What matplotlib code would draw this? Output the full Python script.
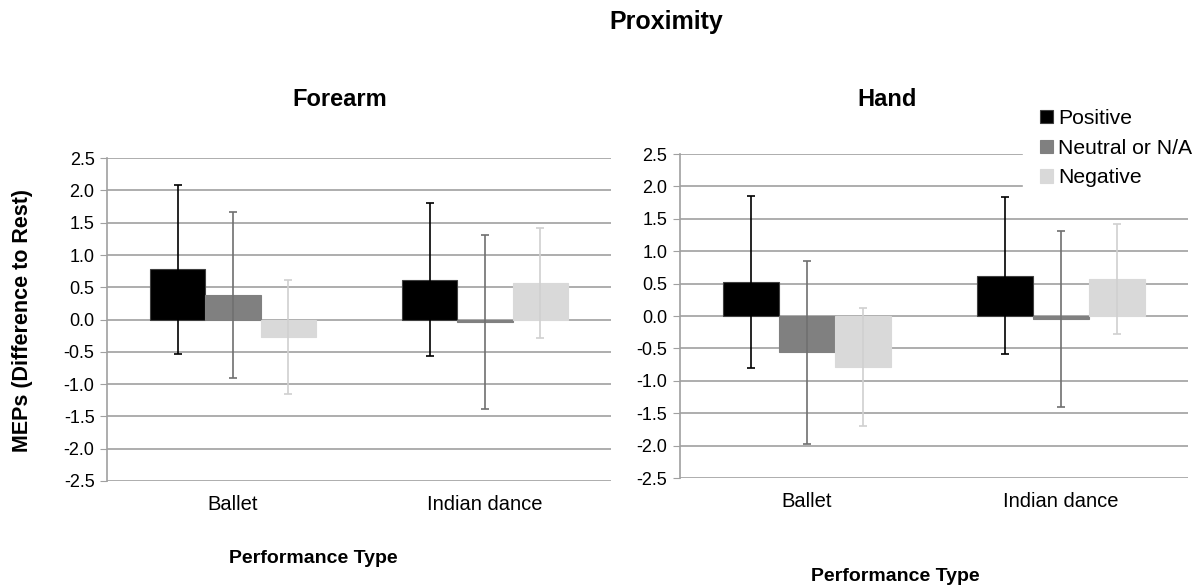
import numpy as np
import matplotlib
matplotlib.use("Agg")
import matplotlib.pyplot as plt

plt.rcParams['font.family'] = ['Liberation Sans', 'DejaVu Sans']

categories = ["Ballet", "Indian dance"]
series = ["Positive", "Neutral or N/A", "Negative"]
colors = ["#000000", "#808080", "#d9d9d9"]

forearm_vals = [[0.78, 0.62], [0.38, -0.04], [-0.27, 0.57]]
forearm_err = [[1.31, 1.19], [1.29, 1.35], [0.89, 0.85]]
hand_vals = [[0.53, 0.62], [-0.56, -0.04], [-0.78, 0.57]]
hand_err = [[1.33, 1.21], [1.41, 1.36], [0.91, 0.85]]

yticks = [2.5, 2.0, 1.5, 1.0, 0.5, 0.0, -0.5, -1.0, -1.5, -2.0, -2.5]

fig = plt.figure(figsize=(11.97, 5.88), dpi=100)
fig.text(0.557, 0.962, "Proximity", ha="center", va="center", fontsize=18, fontweight="bold")

ax1 = fig.add_axes([0.0894, 0.182, 0.421, 0.549])
ax2 = fig.add_axes([0.568, 0.187, 0.4244, 0.551])

w = 0.22
x = np.arange(len(categories))


def draw(ax, vals, errs):
    for i in range(3):
        ax.bar(x + (i - 1) * w, vals[i], w, color=colors[i], edgecolor="#404040" if i == 0 else colors[i],
               linewidth=0.8, zorder=2, label=series[i])
        ax.errorbar(x + (i - 1) * w, vals[i], yerr=errs[i], fmt="none", ecolor="#000000" if i == 0 else ("#707070" if i == 1 else "#d0d0d0"),
                    elinewidth=1.2, capsize=3, capthick=1.2, zorder=3)
    ax.set_xlim(-0.5, 1.5)
    ax.set_ylim(-2.5, 2.5)
    ax.set_yticks(yticks)
    ax.set_yticklabels([f"{t:.1f}" for t in yticks], fontsize=13)
    ax.set_xticks(x)
    ax.set_xticklabels(categories, fontsize=14.5)
    ax.tick_params(axis="x", length=0, pad=10)
    ax.tick_params(axis="y", length=5, color="#a0a0a0", pad=4)
    ax.grid(axis="y", color="#a0a0a0", linewidth=1.2, zorder=0)
    ax.set_axisbelow(True)
    for s in ["top", "right", "bottom"]:
        ax.spines[s].set_visible(False)
    ax.spines["left"].set_color("#a0a0a0")
    ax.spines["left"].set_linewidth(1.2)


draw(ax1, forearm_vals, forearm_err)
draw(ax2, hand_vals, hand_err)

fig.text(0.284, 0.830, "Forearm", ha="center", va="center", fontsize=17, fontweight="bold")
fig.text(0.741, 0.830, "Hand", ha="center", va="center", fontsize=17, fontweight="bold")

fig.text(0.019, 0.455, "MEPs (Difference to Rest)", rotation=90, ha="center", va="center",
         fontsize=15.5, fontweight="bold")
fig.text(0.262, 0.051, "Performance Type", ha="center", va="center", fontsize=14, fontweight="bold")
fig.text(0.748, 0.019, "Performance Type", ha="center", va="center", fontsize=14, fontweight="bold")

handles, labels = ax2.get_legend_handles_labels()
leg = fig.legend(handles, labels, loc="upper left", bbox_to_anchor=(0.855, 0.843), frameon=True, fancybox=False,
                 edgecolor="white", framealpha=1, fontsize=15.2, handlelength=0.6, handleheight=0.6,
                 handletextpad=0.25, labelspacing=0.5, borderpad=0.8, borderaxespad=0)

fig.savefig("out.png", dpi=100)
